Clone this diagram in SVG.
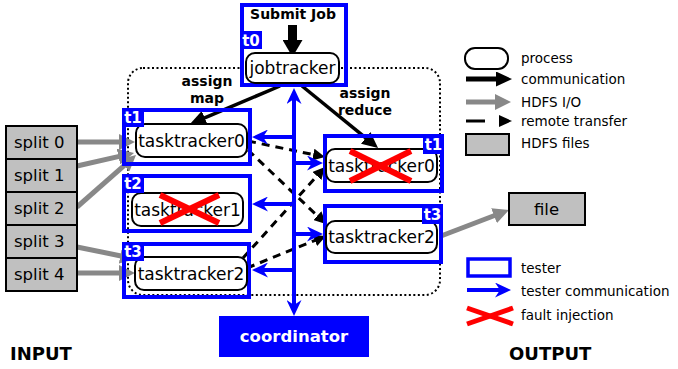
<svg xmlns="http://www.w3.org/2000/svg" width="678" height="369" viewBox="0 0 678 369">
  <style>
    text { font-family: "DejaVu Sans", "Liberation Sans", sans-serif; fill: #000; }
    .proc { fill: #fff; stroke: #000; stroke-width: 2; }
    .ptxt { font-size: 17px; text-anchor: middle; }
    .tester { fill: none; stroke: #0000ff; stroke-width: 4; }
    .tag { fill: #0000ff; }
    .tagtxt { font-size: 15px; font-weight: bold; fill: #fff; text-anchor: middle; }
    .bold { font-size: 14px; font-weight: bold; text-anchor: middle; }
    .big { font-size: 18px; font-weight: bold; }
    .file { fill: #c0c0c0; stroke: #000; stroke-width: 2; }
    .ftxt { font-size: 16.5px; }
    .leg { font-size: 13.5px; }
    .comm { stroke: #000; stroke-width: 3.5; fill: none; marker-end: url(#bhead); }
    .hdfs { stroke: #888; stroke-width: 5; fill: none; marker-end: url(#ghead); }
    .remote { stroke: #000; stroke-width: 3; stroke-dasharray: 8 6; fill: none; marker-end: url(#dhead); }
    .tcomm { stroke: #0000ff; stroke-width: 4; fill: none; marker-end: url(#uhead); }
    .fault { stroke: #ff0000; stroke-width: 6; }
  </style>
  <defs>
    <marker id="bhead" markerUnits="userSpaceOnUse" viewBox="0 0 16 15" markerWidth="16" markerHeight="15" refX="2" refY="7.5" orient="auto">
      <path d="M0,0 L16,7.5 L0,15 z" fill="#000"/>
    </marker>
    <marker id="bighead" markerUnits="userSpaceOnUse" viewBox="0 0 17 20" markerWidth="17" markerHeight="20" refX="1" refY="10" orient="auto">
      <path d="M0,0 L17,10 L0,20 z" fill="#000"/>
    </marker>
    <marker id="ghead" markerUnits="userSpaceOnUse" viewBox="0 0 16 16" markerWidth="16" markerHeight="16" refX="2" refY="8" orient="auto">
      <path d="M0,0 L16,8 L0,16 z" fill="#888"/>
    </marker>
    <marker id="dhead" markerUnits="userSpaceOnUse" viewBox="0 0 12 12" markerWidth="12" markerHeight="12" refX="1" refY="6" orient="auto">
      <path d="M0,0 L12,6 L0,12 z" fill="#000"/>
    </marker>
    <marker id="uhead" markerUnits="userSpaceOnUse" viewBox="0 0 16 15" markerWidth="16" markerHeight="15" refX="5" refY="7.5" orient="auto-start-reverse">
      <path d="M0,0 L16,7.5 L0,15 L5,7.5 z" fill="#0000ff"/>
    </marker>
  </defs>

  <!-- cluster boundary -->
  <rect id="cluster" x="128" y="68" width="312" height="227" rx="15" fill="none" stroke="#000" stroke-width="2" stroke-dasharray="2 2.5"/>

  <!-- connectors -->
  <g id="connectors">
    <!-- job submission -->
    <line x1="292.5" y1="25" x2="292.5" y2="41" stroke="#000" stroke-width="9" marker-end="url(#bighead)"/>
    <!-- assign map / assign reduce -->
    <line class="comm" x1="280" y1="86" x2="202.9" y2="118.6"/>
    <line class="comm" x1="302" y1="86" x2="367.2" y2="139.2"/>
    <!-- remote transfers -->
    <line class="remote" x1="248" y1="141" x2="314.2" y2="154.8"/>
    <line class="remote" x1="248" y1="150" x2="318" y2="216.4"/>
    <line class="remote" x1="243" y1="258" x2="317.6" y2="175.2"/>
    <line class="remote" x1="247" y1="268" x2="315.8" y2="240.1"/>
    <!-- HDFS input / output -->
    <line class="hdfs" x1="77" y1="142" x2="121" y2="142"/>
    <line class="hdfs" x1="77" y1="166" x2="120.4" y2="156.1"/>
    <line class="hdfs" x1="77" y1="207" x2="125.5" y2="164.3"/>
    <line class="hdfs" x1="77" y1="247" x2="122.3" y2="256.2"/>
    <line class="hdfs" x1="77" y1="273" x2="121" y2="273"/>
    <line class="hdfs" x1="441" y1="236" x2="495.9" y2="215"/>
    <!-- tester communication -->
    <line class="tcomm" x1="294" y1="99" x2="294" y2="305" marker-start="url(#uhead)"/>
    <line class="tcomm" x1="294" y1="137" x2="263" y2="137"/>
    <line class="tcomm" x1="294" y1="163" x2="312" y2="163"/>
    <line class="tcomm" x1="294" y1="204" x2="263" y2="204"/>
    <line class="tcomm" x1="294" y1="234" x2="312" y2="234"/>
    <line class="tcomm" x1="294" y1="270" x2="263" y2="270"/>
  </g>

  <!-- HDFS input splits -->
  <g id="split0"><rect class="file" x="6" y="126" width="71" height="33"/><text class="ftxt" x="14" y="148">split 0</text></g>
  <g id="split1"><rect class="file" x="6" y="159" width="71" height="33"/><text class="ftxt" x="14" y="181">split 1</text></g>
  <g id="split2"><rect class="file" x="6" y="192" width="71" height="33"/><text class="ftxt" x="14" y="214">split 2</text></g>
  <g id="split3"><rect class="file" x="6" y="225" width="71" height="33"/><text class="ftxt" x="14" y="247">split 3</text></g>
  <g id="split4"><rect class="file" x="6" y="258" width="71" height="33"/><text class="ftxt" x="14" y="280">split 4</text></g>

  <!-- jobtracker under tester t0 -->
  <g id="jobtracker">
    <rect class="tester" x="242" y="5" width="104" height="80"/>
    <text class="bold" x="293" y="19">Submit Job</text>
    <rect class="tag" x="240" y="31" width="22" height="18"/>
    <text class="tagtxt" x="251" y="46">t0</text>
    <rect class="proc" x="246" y="53" width="93" height="30" rx="9"/>
    <text class="ptxt" x="292.5" y="74">jobtracker</text>
  </g>

  <g id="labels">
    <text class="bold" x="207" y="86">assign</text>
    <text class="bold" x="207" y="103">map</text>
    <text class="bold" x="365" y="98">assign</text>
    <text class="bold" x="365" y="115">reduce</text>
  </g>

  <!-- map-side tasktrackers -->
  <g id="tt0-map">
    <rect class="tester" x="124" y="110" width="126" height="54"/>
    <rect class="proc" x="136" y="124" width="111" height="33" rx="9"/>
    <text class="ptxt" x="191.5" y="146.5">tasktracker0</text>
    <rect class="tag" x="122" y="108" width="22" height="19"/>
    <text class="tagtxt" x="133" y="123">t1</text>
  </g>
  <g id="tt1-map">
    <rect class="tester" x="124" y="176" width="126" height="55"/>
    <rect class="proc" x="132" y="193" width="111" height="33" rx="9"/>
    <text class="ptxt" x="187.5" y="215.5">tasktracker1</text>
    <line class="fault" x1="160" y1="195" x2="219" y2="223"/>
    <line class="fault" x1="160" y1="223" x2="219" y2="195"/>
    <rect class="tag" x="122" y="174" width="22" height="19"/>
    <text class="tagtxt" x="133" y="189">t2</text>
  </g>
  <g id="tt2-map">
    <rect class="tester" x="124" y="244" width="125" height="53"/>
    <rect class="proc" x="135" y="257" width="112" height="33" rx="9"/>
    <text class="ptxt" x="191" y="279.5">tasktracker2</text>
    <rect class="tag" x="122" y="242" width="22" height="19"/>
    <text class="tagtxt" x="133" y="257">t3</text>
  </g>

  <!-- reduce-side tasktrackers -->
  <g id="tt0-reduce">
    <rect class="tester" x="325" y="136" width="117" height="55"/>
    <rect class="proc" x="326" y="149" width="111" height="33" rx="9"/>
    <text class="ptxt" x="381.5" y="171.5">tasktracker0</text>
    <line class="fault" x1="350" y1="151" x2="411" y2="181"/>
    <line class="fault" x1="350" y1="181" x2="411" y2="151"/>
    <rect class="tag" x="423" y="134" width="21" height="20"/>
    <text class="tagtxt" x="433.5" y="150">t1</text>
  </g>
  <g id="tt2-reduce">
    <rect class="tester" x="325" y="206" width="116" height="56"/>
    <rect class="proc" x="326" y="221" width="111" height="32" rx="9"/>
    <text class="ptxt" x="381.5" y="243">tasktracker2</text>
    <rect class="tag" x="422" y="204" width="21" height="20"/>
    <text class="tagtxt" x="432.5" y="220">t3</text>
  </g>

  <!-- output -->
  <g id="file">
    <rect class="file" x="509" y="193" width="76" height="32"/>
    <text class="ftxt" x="546.5" y="215" text-anchor="middle">file</text>
  </g>

  <!-- coordinator -->
  <g id="coordinator">
    <rect x="219" y="316" width="150" height="41" fill="#0000ff"/>
    <text x="294" y="342" font-size="16.5" font-weight="bold" text-anchor="middle" style="fill:#fff">coordinator</text>
  </g>

  <text class="big" x="10" y="360">INPUT</text>
  <text class="big" x="509" y="360">OUTPUT</text>

  <!-- legend -->
  <g id="legend">
    <rect class="proc" x="465" y="48" width="43" height="21" rx="10"/>
    <text class="leg" x="521" y="63">process</text>
    <line class="comm" x1="466" y1="79" x2="498" y2="79" style="stroke-width:5"/>
    <text class="leg" x="521" y="84">communication</text>
    <line class="hdfs" x1="466" y1="102" x2="497" y2="102"/>
    <text class="leg" x="521" y="107">HDFS I/O</text>
    <line x1="466" y1="121" x2="485" y2="121" stroke="#000" stroke-width="3"/>
    <path d="M499,115 L512,121 L499,127 z" fill="#000"/>
    <text class="leg" x="521" y="126">remote transfer</text>
    <rect class="file" x="466" y="134" width="43" height="21"/>
    <text class="leg" x="521" y="148">HDFS files</text>
    <rect class="tester" x="468" y="259" width="42" height="17" style="stroke-width:3.5"/>
    <text class="leg" x="521" y="273">tester</text>
    <line class="tcomm" x1="467" y1="290" x2="500" y2="290"/>
    <text class="leg" x="521" y="296">tester communication</text>
    <line class="fault" x1="467" y1="308" x2="513" y2="324" style="stroke-width:5"/>
    <line class="fault" x1="467" y1="324" x2="513" y2="308" style="stroke-width:5"/>
    <text class="leg" x="521" y="320">fault injection</text>
  </g>
</svg>
